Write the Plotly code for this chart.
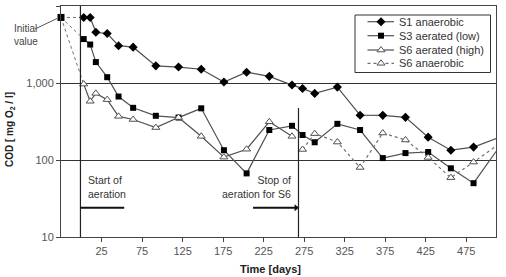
import plotly.graph_objects as go

# ---------------- data ----------------
days = [3, 11, 18, 32, 46, 64, 92, 120, 148, 176, 204, 232, 260, 273, 288, 316, 344, 372, 400, 428, 456, 484, 512]
s1_anaerobic = [7100, 7100, 4560, 4390, 3050, 2920, 1670, 1610, 1510, 1030, 1380, 1220, 940, 850, 733, 885,
                382, 380, 358, 198, 134, 147, 190]
s3_aerated_low = [3720, 3160, 1870, 1190, 667, 476, 375, 356, 469, 134, 67, 245, 278, 211, 170, 295,
                  245, 106, 123, 127, 78, 50, 130]
s6_aerated_days = days[:13]
s6_aerated_high = [968, 579, 733, 608, 369, 336, 264, 356, 203, 109, 138, 313, 203]
s6_anaerobic_days = days[13:]
s6_anaerobic = [137, 220, 171, 80, 224, 182, 108, 59, 94, 152]
initial_day = -25
initial_value = 7100
aeration_start_day = -1
aeration_stop_day = 268
series_names = ["S1 anaerobic", "S3 aerated (low)", "S6 aerated (high)", "S6 anaerobic"]
x_ticks = [25, 75, 125, 175, 225, 275, 325, 375, 425, 475]
y_ticks = [10, 100, 1000, 10000]
y_tick_text = ["10", "100", "1,000", "10,000"]

FONT = "Arial, Liberation Sans, sans-serif"
LINE = "#505050"
DOT = "#707070"

# plot area in pixels (for paper-coordinate placement)
W, H, ML, MR, MT, MB = 506, 277, 61, 10, 6, 40
PW, PH = W - ML - MR, H - MT - MB


def px(x):
    return (x - ML) / PW


def py(y):
    return (H - MB - y) / PH


styles = [
    dict(line=dict(color=LINE, width=1.2), marker=dict(symbol="diamond", size=7, color="black")),
    dict(line=dict(color=LINE, width=1.2), marker=dict(symbol="square", size=6, color="black")),
    dict(line=dict(color=LINE, width=1.2),
         marker=dict(symbol="triangle-up", size=7, color="white", line=dict(color=LINE, width=1))),
    dict(line=dict(color=DOT, width=1.2, dash="dot"),
         marker=dict(symbol="triangle-up", size=7, color="white", line=dict(color=LINE, width=1))),
]
series = [(days, s1_anaerobic), (days, s3_aerated_low), (s6_aerated_days, s6_aerated_high),
          (s6_anaerobic_days, s6_anaerobic)]

fig = go.Figure()

# dotted connectors from the initial value
for x_first, y_first in [(days[0], s1_anaerobic[0]), (days[0], s3_aerated_low[0]),
                         (s6_aerated_days[0], s6_aerated_high[0])]:
    fig.add_trace(go.Scatter(x=[initial_day, x_first], y=[initial_value, y_first], mode="lines",
                             line=dict(color=DOT, width=1, dash="dot"), showlegend=False,
                             hoverinfo="skip", cliponaxis=False))

for (xs, ys), name, st in zip(series, series_names, styles):
    fig.add_trace(go.Scatter(x=xs, y=ys, name=name, mode="lines+markers", showlegend=False,
                             cliponaxis=False, **st))

fig.add_trace(go.Scatter(x=[initial_day], y=[initial_value], mode="markers", showlegend=False,
                         marker=dict(symbol="square", size=7, color="black"), cliponaxis=False))

# ---- custom compact legend (on an overlay axis in paper units) ----
leg_rows = [21.7, 35.7, 50.0, 63.3]
fig.add_shape(type="rect", xref="paper", yref="paper", x0=px(355), x1=px(490.5), y0=py(72.5), y1=py(15),
              line=dict(color="#333333", width=1), fillcolor="white", layer="below")
for name, st, ry in zip(series_names, styles, leg_rows):
    fig.add_trace(go.Scatter(x=[px(367.5), px(394)], y=[py(ry), py(ry)], mode="lines", line=st["line"],
                             xaxis="x2", yaxis="y2", showlegend=False, hoverinfo="skip", cliponaxis=False))
    fig.add_trace(go.Scatter(x=[px(381)], y=[py(ry)], mode="markers", marker=st["marker"],
                             xaxis="x2", yaxis="y2", showlegend=False, hoverinfo="skip", cliponaxis=False))
    fig.add_annotation(x=px(397), y=py(ry), xref="paper", yref="paper", text=name, showarrow=False,
                       xanchor="left", yanchor="middle", font=dict(family=FONT, size=11, color="#333333"))

# reference lines
fig.add_shape(type="line", xref="x", yref="paper", x0=aeration_start_day, x1=aeration_start_day, y0=0, y1=1,
              line=dict(color="#222222", width=1.2))
fig.add_shape(type="line", xref="x", yref="paper", x0=aeration_stop_day, x1=aeration_stop_day, y0=0, y1=py(108),
              line=dict(color="#222222", width=1.2))
fig.add_shape(type="line", xref="x", yref="paper", x0=aeration_start_day, x1=53, y0=py(207.7), y1=py(207.7),
              line=dict(color="#111111", width=2))
fig.add_shape(type="line", xref="x", yref="paper", x0=212, x1=aeration_stop_day - 3, y0=py(207.7), y1=py(207.7),
              line=dict(color="#111111", width=2))
fig.add_trace(go.Scatter(x=[aeration_stop_day - 3], y=[py(207.7)], xaxis="x", yaxis="y2", mode="markers",
                         marker=dict(symbol="triangle-right", size=6, color="#111111"),
                         showlegend=False, hoverinfo="skip", cliponaxis=False))
# initial value pointer
fig.add_shape(type="line", xref="paper", yref="paper", x0=px(35), y0=py(29), x1=px(57), y1=py(18.5),
              line=dict(color="#555555", width=1))

fig.add_annotation(x=px(12), y=py(35), xref="paper", yref="paper", text="Initial<br>value", showarrow=False,
                   xanchor="left", yanchor="middle", align="left", font=dict(family=FONT, size=10, color="#444444"))
fig.add_annotation(x=6, y=py(187.3), xref="x", yref="paper", text="Start of<br>aeration", showarrow=False,
                   xanchor="left", yanchor="middle", align="left",
                   font=dict(family=FONT, size=10.5, color="#333333"))
fig.add_annotation(x=261.5, y=py(187), xref="x", yref="paper", text="Stop of<br>aeration for S6", showarrow=False,
                   xanchor="right", yanchor="middle", align="right",
                   font=dict(family=FONT, size=10.5, color="#333333"))

# axis titles
fig.add_annotation(x=px(10), y=py(130), xref="paper", yref="paper", text="<b>COD [ mg O<sub>2</sub> / l]</b>",
                   textangle=-90, showarrow=False, xanchor="center", yanchor="middle",
                   font=dict(family=FONT, size=10, color="#222222"))
fig.add_annotation(x=px(270), y=py(269), xref="paper", yref="paper", text="<b>Time [days]</b>",
                   showarrow=False, xanchor="center", yanchor="middle",
                   font=dict(family=FONT, size=11, color="#222222"))

fig.update_layout(
    width=W, height=H, margin=dict(l=ML, r=MR, t=MT, b=MB),
    paper_bgcolor="white", plot_bgcolor="white", showlegend=False,
    xaxis=dict(range=[-25, 511.7], tickvals=x_ticks, ticks="outside", ticklen=4, tickcolor="#444444",
               showgrid=False, zeroline=False, showline=True, mirror=True, linecolor="#444444", linewidth=1,
               tickfont=dict(family=FONT, size=11, color="#555555")),
    yaxis=dict(type="log", range=[1, 4], tickvals=y_ticks, ticktext=y_tick_text, ticks="outside", ticklen=4,
               tickcolor="#444444", showgrid=True, gridcolor="#333333", gridwidth=1, zeroline=False,
               showline=True, mirror=True, linecolor="#444444", linewidth=1,
               tickfont=dict(family=FONT, size=11, color="#555555")),
    xaxis2=dict(overlaying="x", range=[0, 1], visible=False, fixedrange=True),
    yaxis2=dict(overlaying="y", range=[0, 1], visible=False, fixedrange=True),
)

fig.write_html("out.html")
